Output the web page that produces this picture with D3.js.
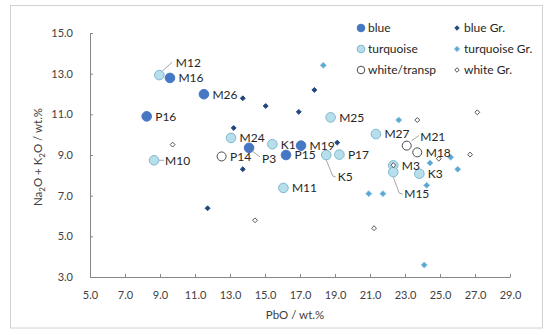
<!DOCTYPE html>
<html>
<head>
<meta charset="utf-8">
<script src="https://cdn.jsdelivr.net/npm/d3@7"></script>
<style>
  body { margin: 0; background: #fff; }
  svg text { font-family: Lato, "Open Sans", sans-serif; }
</style>
</head>
<body>
<div id="chart"></div>
<script>
const width = 550;
const height = 335;
const margin = { top: 33, right: 40, bottom: 58, left: 90 };

// PbO (wt.%), Na2O+K2O (wt.%), sample
const bluePbo = [9.57, 11.51, 8.24, 14.09, 16.2, 17.06];
const blueAlk = [12.79, 11.99, 10.90, 9.35, 9.0, 9.46];
const blueNames = ['M16', 'M26', 'P16', 'P3', 'P15', 'M19'];

const turqPbo = [8.96, 8.66, 13.06, 15.42, 16.05, 18.75, 18.5, 19.25, 21.34, 22.33, 22.33, 23.82];
const turqAlk = [12.93, 8.74, 9.84, 9.53, 7.38, 10.85, 9.0, 9.02, 10.03, 8.49, 8.16, 8.08];
const turqNames = ['M12', 'M10', 'M24', 'K1', 'M11', 'M25', 'K5', 'P17', 'M27', 'M3', 'M15', 'K3'];

const whitePbo = [12.52, 23.1, 23.7];
const whiteAlk = [8.93, 9.46, 9.13];
const whiteNames = ['P14', 'M21', 'M18'];

const blueGrPbo = [13.73, 15.04, 16.93, 17.82, 13.21, 19.13, 13.73, 11.72];
const blueGrAlk = [11.79, 11.41, 11.12, 12.2, 10.33, 9.61, 8.30, 6.38];

const turqGrPbo = [18.33, 22.64, 25.61, 24.43, 26.01, 24.24, 20.93, 21.74, 24.1];
const turqGrAlk = [13.41, 10.72, 8.89, 8.61, 8.30, 7.51, 7.10, 7.10, 3.59];

const whiteGrPbo = [9.72, 14.43, 23.7, 27.13, 24.93, 26.72, 21.23, 22.33];
const whiteGrAlk = [9.51, 5.79, 10.72, 11.10, 8.82, 9.02, 5.40, 8.50];

const xTicks = [5, 7, 9, 11, 13, 15, 17, 19, 21, 23, 25, 27, 29];
const yTicks = [3, 5, 7, 9, 11, 13, 15];

const seriesNames = ['blue', 'turquoise', 'white/transp', 'blue Gr.', 'turquoise Gr.', 'white Gr.'];

// label placement (px from point): dx, dy and optional leader line
const labelPos = {
  M12: { dx: 16.5, dy: -12, leader: [[3, -4], [13, -13]] },
  M10: { dx: 11, dy: 0, leader: [[5, 0], [10, 0]] },
  P3: { dx: 13, dy: 10.5, leader: [[3, 3], [11, 9]] },
  K5: { dx: 11.5, dy: 22, leader: [[0, 5], [6.5, 21], [9.5, 22]] },
  M21: { dx: 13.5, dy: -9, leader: [[5, -5], [12, -10]] },
  M15: { dx: 11, dy: 22, leader: [[0, 5], [6, 21], [9.5, 22]] }
};

const style = {
  blue: { fill: '#4677c2', stroke: '#4677c2' },
  turquoise: { fill: '#b7deea', stroke: '#7db9d1' },
  white: { fill: '#fff', stroke: '#4a4a4a' },
  blueGr: { fill: '#22477e', stroke: '#22477e' },
  turqGr: { fill: '#5aa7d4', stroke: '#8fc6e3' },
  whiteGr: { fill: '#fff', stroke: '#555' }
};

const svg = d3.select('#chart')
  .append('svg')
  .attr('width', width)
  .attr('height', height);

svg.append('rect')
  .attr('x', 10.5).attr('y', 5.5)
  .attr('width', 532).attr('height', 322.5)
  .attr('fill', '#fff')
  .attr('stroke', '#d2d2d2');

const x = d3.scaleLinear()
  .domain([5, 29])
  .range([margin.left, width - margin.right]);

const y = d3.scaleLinear()
  .domain([3, 15])
  .range([height - margin.bottom, margin.top]);

function xAxis(g) {
  g.attr('transform', `translate(0, ${y(3)})`)
    .call(d3.axisBottom(x).tickValues(xTicks).tickFormat(d3.format('.1f'))
      .tickSizeInner(-3).tickSizeOuter(0).tickPadding(14));
}

function yAxis(g) {
  g.attr('transform', `translate(${x(5)}, 0)`)
    .call(d3.axisLeft(y).tickValues(yTicks).tickFormat(d3.format('.1f'))
      .tickSizeInner(-3).tickSizeOuter(0).tickPadding(17));
}

[xAxis, yAxis].forEach(fn => {
  const g = svg.append('g').call(fn);
  g.selectAll('path, line').attr('stroke', '#868686');
  g.selectAll('text').attr('fill', '#404040').attr('font-size', '11px')
    .attr('font-family', 'Lato, sans-serif');
});

// axis titles
svg.append('text')
  .attr('x', 295).attr('y', 319)
  .attr('text-anchor', 'middle')
  .attr('font-size', '11.5px')
  .attr('fill', '#404040')
  .text('PbO / wt.%');

const yt = svg.append('text')
  .attr('transform', 'translate(42, 157) rotate(-90)')
  .attr('text-anchor', 'middle')
  .attr('font-size', '11.5px')
  .attr('fill', '#404040');
yt.append('tspan').text('Na');
yt.append('tspan').text('2').attr('font-size', '8px').attr('dy', 3);
yt.append('tspan').text('O + K').attr('dy', -3);
yt.append('tspan').text('2').attr('font-size', '8px').attr('dy', 3);
yt.append('tspan').text('O / wt.%').attr('dy', -3);

const zip = (xs, ys, names) => xs.map((v, i) => ({ pbo: v, alk: ys[i], name: names ? names[i] : null }));

const blue = zip(bluePbo, blueAlk, blueNames);
const turq = zip(turqPbo, turqAlk, turqNames);
const white = zip(whitePbo, whiteAlk, whiteNames);
const blueGr = zip(blueGrPbo, blueGrAlk);
const turqGr = zip(turqGrPbo, turqGrAlk);
const whiteGr = zip(whiteGrPbo, whiteGrAlk);

// square diamond (Excel style) rather than d3's narrow one
const rhomb = {
  draw(ctx, size) {
    const r = Math.sqrt(size / 2);
    ctx.moveTo(0, -r);
    ctx.lineTo(r, 0);
    ctx.lineTo(0, r);
    ctx.lineTo(-r, 0);
    ctx.closePath();
  }
};
const diamond = d3.symbol().type(rhomb);

function diamonds(data, s, size) {
  svg.append('g').selectAll('path')
    .data(data)
    .join('path')
      .attr('transform', d => `translate(${x(d.pbo)},${y(d.alk)})`)
      .attr('d', diamond.size(size)())
      .attr('fill', s.fill)
      .attr('stroke', s.stroke)
      .attr('stroke-width', 1);
}

function circles(data, s, r) {
  svg.append('g').selectAll('circle')
    .data(data)
    .join('circle')
      .attr('cx', d => x(d.pbo))
      .attr('cy', d => y(d.alk))
      .attr('r', r)
      .attr('fill', s.fill)
      .attr('stroke', s.stroke)
      .attr('stroke-width', 1);
}

diamonds(blueGr, style.blueGr, 12);
diamonds(turqGr, style.turqGr, 18);
circles(turq, style.turquoise, 4.8);
circles(blue, style.blue, 4.8);
circles(white, style.white, 4.5);
diamonds(whiteGr, style.whiteGr, 12);

// labels
const labelled = blue.concat(turq, white);
const lg = svg.append('g');
labelled.forEach(d => {
  const p = labelPos[d.name] || { dx: 8.5, dy: 0 };
  const px = x(d.pbo), py = y(d.alk);
  if (p.leader) {
    lg.append('path')
      .attr('d', d3.line()(p.leader.map(q => [px + q[0], py + q[1]])))
      .attr('fill', 'none')
      .attr('stroke', '#a6a6a6')
      .attr('stroke-width', 1);
  }
  lg.append('text')
    .attr('x', px + p.dx)
    .attr('y', py + p.dy)
    .attr('dy', '0.36em')
    .attr('font-size', '12px')
    .attr('fill', '#262626')
    .text(d.name);
});

// legend
const legendCols = [361, 457];
const legendRows = [28, 49, 70];
const legendStyles = [style.blue, style.turquoise, style.white, style.blueGr, style.turqGr, style.whiteGr];
const legend = svg.append('g');
seriesNames.forEach((name, i) => {
  const cx = legendCols[Math.floor(i / 3)];
  const cy = legendRows[i % 3];
  const s = legendStyles[i];
  if (i < 3) {
    legend.append('circle').attr('cx', cx).attr('cy', cy).attr('r', 3.8)
      .attr('fill', s.fill).attr('stroke', s.stroke);
  } else {
    legend.append('path').attr('transform', `translate(${cx},${cy})`)
      .attr('d', diamond.size(i === 4 ? 14 : 10)())
      .attr('fill', s.fill).attr('stroke', s.stroke);
  }
  legend.append('text')
    .attr('x', cx + 7)
    .attr('y', cy)
    .attr('dy', '0.36em')
    .attr('font-size', '12px')
    .attr('fill', '#262626')
    .text(name);
});
</script>
</body>
</html>
